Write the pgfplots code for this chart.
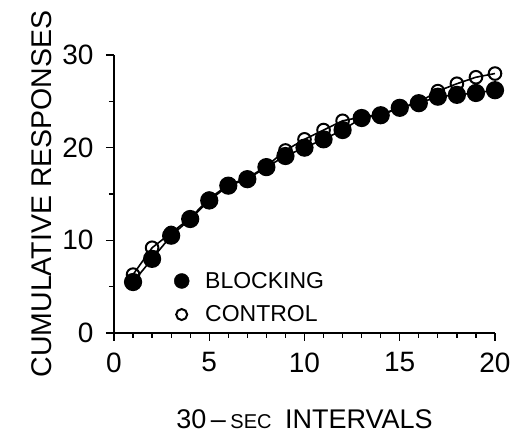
\documentclass[border=0pt]{standalone}
\usepackage{fontspec}
\setmainfont{Liberation Sans}
\usepackage{pgfplots}
\pgfplotsset{compat=1.18}
\begin{document}
\begin{tikzpicture}
\useasboundingbox (-114pt,-103pt) rectangle (400pt,333pt);
\begin{axis}[
  scale only axis,
  width=381pt, height=278pt,
  xmin=0, xmax=20, ymin=0, ymax=30,
  axis lines*=left,
  axis line style={line width=1.3pt},
  xtick={0,5,10,15,20}, minor xtick={1,2,3,4,6,7,8,9,11,12,13,14,16,17,18,19},
  ytick={0,10,20,30}, minor ytick={5,15,25},
  tick align=outside,
  major tick length=8pt, minor tick length=5pt,
  tick style={line width=1.2pt, black},
  /pgf/number format/assume math mode=true,
  ticklabel style={font=\fontsize{28}{28}\selectfont},
  xticklabel style={yshift=-8pt},
  yticklabel style={xshift=-9pt},
  xlabel={30\,–\,{\fontsize{20}{20}\selectfont SEC}\enspace INTERVALS},
  ylabel={CUMULATIVE RESPONSES},
  xlabel style={font=\fontsize{27}{27}\selectfont, yshift=-30pt},
  ylabel style={font=\fontsize{28.5}{28.5}\selectfont, yshift=4pt},
  legend style={at={(axis cs:3.15,6.8)}, anchor=north west, draw=none, fill=none,
    font=\fontsize{23}{23}\selectfont, row sep=12pt, inner sep=0pt, column sep=14pt},
  legend cell align=left,
]
\addplot[line width=1.6pt, mark=o, mark size=6.3pt, mark options={line width=2pt, fill=white}, forget plot] coordinates {
(1,6.3) (2,9.2) (3,10.8) (4,12.4) (5,14.5) (6,16.0) (7,16.7) (8,18.0) (9,19.7) (10,20.9)
(11,21.9) (12,22.9) (13,23.3) (14,23.6) (15,24.3) (16,24.9) (17,26.1) (18,26.9) (19,27.6) (20,28.0)
};
\addplot[line width=1.6pt, mark=*, mark size=8.3pt, forget plot] coordinates {
(1,5.5) (2,8.0) (3,10.5) (4,12.3) (5,14.3) (6,15.9) (7,16.6) (8,17.9) (9,19.1) (10,20.0)
(11,20.9) (12,21.9) (13,23.2) (14,23.5) (15,24.3) (16,24.8) (17,25.5) (18,25.7) (19,25.9) (20,26.2)
};
\addlegendimage{only marks, mark=*, mark size=7.5pt}
\addlegendentry{BLOCKING}
\addlegendimage{only marks, mark=o, mark size=5.5pt, mark options={line width=2pt}}
\addlegendentry{CONTROL}
\end{axis}
\end{tikzpicture}
\end{document}
